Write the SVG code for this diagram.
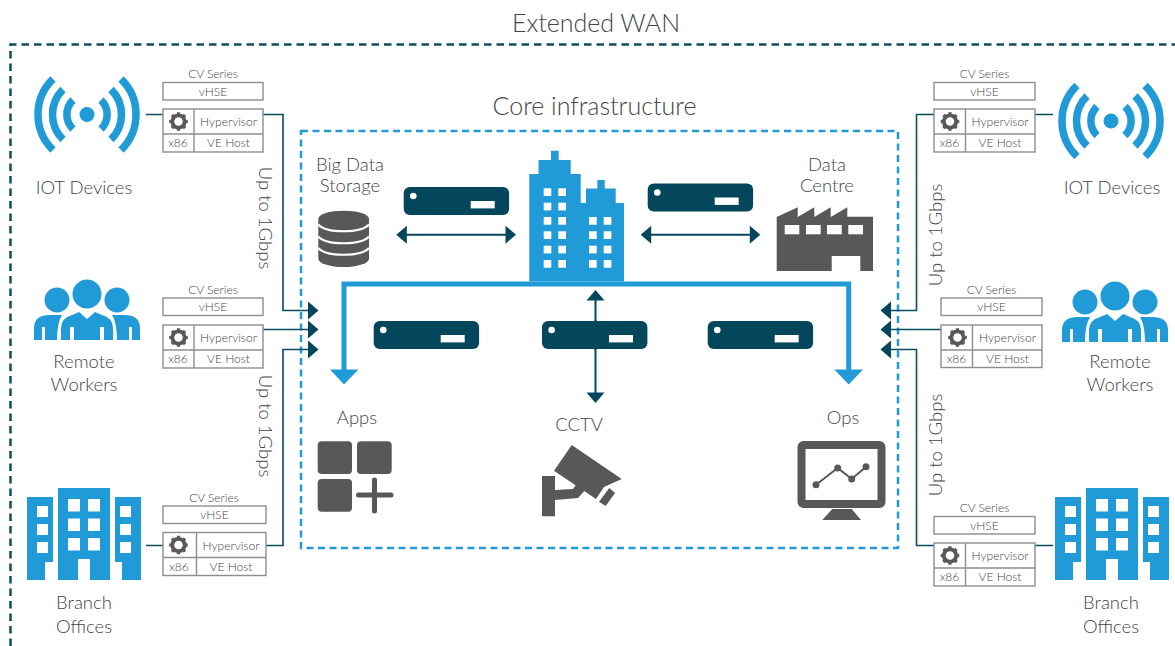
<svg xmlns="http://www.w3.org/2000/svg" width="1175" height="646" viewBox="0 0 1175 646">
<style>
text{font-family:"Lato","Open Sans","Liberation Sans",sans-serif;font-weight:300;fill:#454547;text-anchor:middle}
.t24{font-size:25px}.t18{font-size:18.500px}.t11{font-size:12px}
.box{fill:#fff;stroke:#8e8e8e;stroke-width:1.4}
.dv{stroke:#8e8e8e;stroke-width:1.4;fill:none}
.blue{fill:#219bd8}.dark{fill:#04465c}.grey{fill:#58585a}.wh{fill:#fff}
.link{fill:none;stroke:#0b4d61;stroke-width:1.6}
.dbl{fill:none;stroke:#04465c;stroke-width:2}
.bus{fill:none;stroke:#219bd8;stroke-width:5}
.arc{fill:none;stroke:#219bd8;stroke-width:7.5}
</style>
<defs>
<g id="gear">
<circle r="6.2" fill="none" stroke="#58585a" stroke-width="3.8"/>
<circle r="8" fill="none" stroke="#58585a" stroke-width="2.6" pathLength="16" stroke-dasharray="1 1" stroke-dashoffset="0.5"/>
</g>
<g id="server">
<rect width="105.4" height="28" rx="6" class="dark"/>
<circle cx="9.6" cy="9" r="3.3" class="wh"/>
<rect x="67" y="14" width="24" height="7.4" class="wh"/>
</g>
<g id="wifi">
<circle r="7.5" class="blue"/>
<path class="arc" d="M-14 -14.5A20.2 20.2 0 0 0 -14 14.5M14 -14.5A20.2 20.2 0 0 1 14 14.5M-24 -25A35 35 0 0 0 -24 25M24 -25A35 35 0 0 1 24 25M-34 -35.5A49.5 49.5 0 0 0 -34 35.5M34 -35.5A49.5 49.5 0 0 1 34 35.5"/>
</g>
<g id="people" class="blue">
<circle cx="87" cy="294" r="14.5"/><circle cx="57" cy="300" r="12.5"/><circle cx="117" cy="300" r="12.5"/>
<path d="M61 340V328Q61 318 72 315L79 312L87 319L95 312L102 315Q113 318 113 328V340H104V327H100V340H74V327H70V340Z"/>
<path d="M34 340V328Q34 315 50 315H62Q57 323 57 340H45V327H42V340Z"/>
<path d="M140 340V328Q140 315 124 315H112Q117 323 117 340H129V327H132V340Z"/>
</g>
<g id="branch">
<path class="blue" d="M58 488H110V580H90V559H78V580H58Z"/>
<path class="blue" d="M27 497H53V562H45V580H27Z"/>
<path class="blue" d="M115 497H141V580H122V562H115Z"/>
<g class="wh">
<rect x="68" y="499" width="12" height="12.5"/><rect x="88" y="499" width="12" height="12.5"/>
<rect x="68" y="518.5" width="12" height="12.5"/><rect x="88" y="518.5" width="12" height="12.5"/>
<rect x="68" y="538" width="12" height="12.5"/><rect x="88" y="538" width="12" height="12.5"/>
<rect x="37" y="506" width="11" height="11"/><rect x="37" y="524" width="11" height="11"/><rect x="37" y="542" width="11" height="11"/>
<rect x="120" y="506" width="11" height="11"/><rect x="120" y="524" width="11" height="11"/><rect x="120" y="542" width="11" height="11"/>
</g>
</g>
<path id="ah" d="M0 0L-10.500 -9V9Z" fill="#04465c"/>
</defs>

<path d="M10.500 646V44.500H1175" fill="none" stroke="#0e4f5f" stroke-width="2.500" stroke-dasharray="7.500 5"/>
<text class="t24" x="596" y="32">Extended WAN</text>
<rect x="301" y="131" width="597" height="417" fill="none" stroke="#219bd8" stroke-width="2.500" stroke-dasharray="7 4.500"/>
<text class="t24" x="594.500" y="115">Core infrastructure</text>

<g id="connectors">
<path class="link" d="M146 114.500H163M263 114.500H283V310.500H310"/>
<path class="link" d="M263 329.500H310"/>
<path class="link" d="M146 545.500H163M266 545.500H283V349.500H310"/>
<path class="link" d="M1053 114.500H1035M934 114.500H916.500V310.500H889"/>
<path class="link" d="M941 329.500H889"/>
<path class="link" d="M1053 545.500H1035M934 545.500H916.500V349.500H889"/>
<use href="#ah" transform="translate(318.500 310.500)"/>
<use href="#ah" transform="translate(318.500 329.500)"/>
<use href="#ah" transform="translate(318.500 349.500)"/>
<use href="#ah" transform="translate(880.500 310.500) scale(-1 1)"/>
<use href="#ah" transform="translate(880.500 329.500) scale(-1 1)"/>
<use href="#ah" transform="translate(880.500 349.500) scale(-1 1)"/>
<path class="dbl" d="M404 234.700H508"/>
<use href="#ah" transform="translate(516 234.700)"/>
<use href="#ah" transform="translate(396.300 234.700) scale(-1 1)"/>
<path class="dbl" d="M648 234.700H752"/>
<use href="#ah" transform="translate(760.300 234.700)"/>
<use href="#ah" transform="translate(640.700 234.700) scale(-1 1)"/>
<path class="dbl" d="M595.500 298V396"/>
<use href="#ah" transform="translate(595.500 290) rotate(-90)"/>
<use href="#ah" transform="translate(595.500 403) rotate(90)"/>
<path class="bus" d="M344 374V284H848.700V374"/>
<path class="blue" d="M330 369.500H358.500L344 384.500Z"/>
<path class="blue" d="M834.300 369.500H863L848.700 384.500Z"/>
</g>

<text class="t18" transform="translate(258.500 218) rotate(90)">Up to 1Gbps</text>
<text class="t18" transform="translate(258.500 426) rotate(90)">Up to 1Gbps</text>
<text class="t18" transform="translate(941.500 235) rotate(-90)">Up to 1Gbps</text>
<text class="t18" transform="translate(941.500 445) rotate(-90)">Up to 1Gbps</text>

<g id="iot-left"><use href="#wifi" transform="translate(87 114.500)"/><text class="t18" x="84" y="194">IOT Devices</text></g>
<g id="iot-right"><use href="#wifi" transform="translate(1111 121)"/><text class="t18" x="1112" y="194">IOT Devices</text></g>
<g id="workers-left"><use href="#people"/><text class="t18" x="84" y="368">Remote</text><text class="t18" x="84" y="391">Workers</text></g>
<g id="workers-right"><use href="#people" transform="translate(1028 2)"/><text class="t18" x="1120" y="368">Remote</text><text class="t18" x="1120" y="391">Workers</text></g>
<g id="branch-left"><use href="#branch"/><text class="t18" x="84" y="609">Branch</text><text class="t18" x="84" y="633">Offices</text></g>
<g id="branch-right"><use href="#branch" transform="translate(1028 0)"/><text class="t18" x="1111" y="609">Branch</text><text class="t18" x="1111" y="633">Offices</text></g>

<g id="cv-1">
<text class="t11" x="213" y="78">CV Series</text><rect class="box" x="163" y="82.500" width="100" height="17.500"/><text class="t11" x="213" y="95.500">vHSE</text>
<rect class="box" x="163" y="109" width="100" height="43"/><path class="dv" d="M194 109V152M163 134H263"/>
<use href="#gear" transform="translate(178.500 121.500)"/><text class="t11" x="228.500" y="126">Hypervisor</text><text class="t11" x="178" y="147">x86</text><text class="t11" x="228.500" y="147">VE Host</text>
</g>
<g id="cv-2">
<text class="t11" x="213" y="294">CV Series</text><rect class="box" x="163" y="298" width="100" height="17.500"/><text class="t11" x="213" y="311">vHSE</text>
<rect class="box" x="163" y="325" width="100" height="43"/><path class="dv" d="M194 325V368M163 350H263"/>
<use href="#gear" transform="translate(178.500 337.500)"/><text class="t11" x="228.500" y="342">Hypervisor</text><text class="t11" x="178" y="363">x86</text><text class="t11" x="228.500" y="363">VE Host</text>
</g>
<g id="cv-3">
<text class="t11" x="214" y="502">CV Series</text><rect class="box" x="163" y="506" width="103" height="17.500"/><text class="t11" x="214.500" y="519">vHSE</text>
<rect class="box" x="163" y="532.500" width="103" height="43"/><path class="dv" d="M196.500 532.500V575.500M163 557.500H266"/>
<use href="#gear" transform="translate(178.500 545)"/><text class="t11" x="231" y="550">Hypervisor</text><text class="t11" x="179" y="571">x86</text><text class="t11" x="231" y="571">VE Host</text>
</g>
<g id="cv-4">
<text class="t11" x="984.500" y="78">CV Series</text><rect class="box" x="934" y="82.500" width="101" height="17.500"/><text class="t11" x="984.500" y="95.500">vHSE</text>
<rect class="box" x="934" y="109" width="101" height="43"/><path class="dv" d="M965.500 109V152M934 134H1035"/>
<use href="#gear" transform="translate(950 121.500)"/><text class="t11" x="1000" y="126">Hypervisor</text><text class="t11" x="949.500" y="147">x86</text><text class="t11" x="1000" y="147">VE Host</text>
</g>
<g id="cv-5">
<text class="t11" x="991.500" y="294">CV Series</text><rect class="box" x="941" y="298" width="101" height="17.500"/><text class="t11" x="991.500" y="311">vHSE</text>
<rect class="box" x="941" y="325" width="101" height="42.500"/><path class="dv" d="M972.500 325V367.500M941 350H1042"/>
<use href="#gear" transform="translate(957.500 337.500)"/><text class="t11" x="1007.500" y="342">Hypervisor</text><text class="t11" x="956.500" y="363">x86</text><text class="t11" x="1007.500" y="363">VE Host</text>
</g>
<g id="cv-6">
<text class="t11" x="984.500" y="512">CV Series</text><rect class="box" x="934" y="516.500" width="101" height="17.500"/><text class="t11" x="984.500" y="529.500">vHSE</text>
<rect class="box" x="934" y="543" width="101" height="43"/><path class="dv" d="M965.500 543V586M934 568H1035"/>
<use href="#gear" transform="translate(950 555.500)"/><text class="t11" x="1000" y="560">Hypervisor</text><text class="t11" x="949.500" y="581">x86</text><text class="t11" x="1000" y="581">VE Host</text>
</g>

<g id="tower">
<path class="blue" d="M529.300 281.500V174H538.500V160H551V150.700H558.700V160H570.700V174H580.700V203H586V188.500H597.300V180H604.700V188.500H615.700V203H624V281.500Z"/>
<g class="wh">
<rect x="543.700" y="188.300" width="7.600" height="7.700"/><rect x="558.300" y="188.300" width="7.700" height="7.700"/>
<rect x="543.700" y="202.700" width="7.600" height="7.700"/><rect x="558.300" y="202.700" width="7.700" height="7.700"/>
<rect x="543.700" y="217" width="7.600" height="7.700"/><rect x="558.300" y="217" width="7.700" height="7.700"/>
<rect x="543.700" y="231.300" width="7.600" height="7.700"/><rect x="558.300" y="231.300" width="7.700" height="7.700"/>
<rect x="543.700" y="245.700" width="7.600" height="7.700"/><rect x="558.300" y="245.700" width="7.700" height="7.700"/>
<rect x="543.700" y="260" width="7.600" height="7.700"/><rect x="558.300" y="260" width="7.700" height="7.700"/>
<rect x="589" y="217" width="7.700" height="7.700"/><rect x="603.700" y="217" width="7.700" height="7.700"/>
<rect x="589" y="231.300" width="7.700" height="7.700"/><rect x="603.700" y="231.300" width="7.700" height="7.700"/>
<rect x="589" y="245.700" width="7.700" height="7.700"/><rect x="603.700" y="245.700" width="7.700" height="7.700"/>
<rect x="589" y="260" width="7.700" height="7.700"/><rect x="603.700" y="260" width="7.700" height="7.700"/>
</g>
</g>
<g id="server-1"><use href="#server" transform="translate(403.700 187)"/></g>
<g id="server-2"><use href="#server" transform="translate(647.700 183.500)"/></g>
<g id="server-3"><use href="#server" transform="translate(373.700 321)"/></g>
<g id="server-4"><use href="#server" transform="translate(542 321)"/></g>
<g id="server-5"><use href="#server" transform="translate(707.700 321)"/></g>
<path class="dbl" d="M595.500 320V350"/>

<g id="storage">
<text class="t18" x="350" y="171">Big Data</text><text class="t18" x="350" y="192">Storage</text>
<path class="grey" d="M318.300 219A25.300 8.300 0 0 1 369 219V258.700A25.300 8.300 0 0 1 318.300 258.700Z"/>
<path d="M318.300 224.500C326 233.500 361 233.500 369 224.500M318.300 236.500C326 245.500 361 245.500 369 236.500M318.300 248C326 257 361 257 369 248" fill="none" stroke="#fff" stroke-width="2.200"/>
</g>
<g id="datacentre">
<text class="t18" x="827" y="171">Data</text><text class="t18" x="827" y="192">Centre</text>
<path class="grey" d="M776.700 271V217L797.700 207.300V217L814.300 207.300V217L830.700 207.300V217L847.300 207.300V216.700H873V271H860.300V256H831.700V271Z"/>
<g class="wh"><rect x="784.700" y="225" width="14.600" height="9.300"/><rect x="806" y="225" width="14.700" height="9.300"/><rect x="827" y="225" width="14.700" height="9.300"/><rect x="848.300" y="225" width="14.700" height="9.300"/></g>
</g>
<g id="apps">
<text class="t18" x="357" y="424">Apps</text>
<g class="grey"><rect x="317.700" y="441.300" width="34.300" height="32.700" rx="4"/><rect x="357" y="441.300" width="34.700" height="32.700" rx="4"/><rect x="317.700" y="479" width="34.300" height="32.700" rx="4"/></g>
<path d="M358.500 495H391M374.500 480V511" fill="none" stroke="#58585a" stroke-width="5" stroke-linecap="round"/>
</g>
<g id="cctv">
<text class="t18" x="579" y="431">CCTV</text>
<path class="grey" d="M571.700 445L621.700 479L604 487L596 499L554 470.700Z"/>
<path class="grey" d="M542 476H555V490L573 489L578 482L587 488L578 498L555 500V516.300H542Z"/>
<path class="grey" d="M609.300 488L615 493L605.700 506L599 501.700Z"/>
</g>
<g id="ops">
<text class="t18" x="843" y="424">Ops</text>
<rect x="801.500" y="445" width="80" height="59" rx="2" fill="none" stroke="#58585a" stroke-width="8"/>
<path class="grey" d="M822.300 520H861L851.700 509H832.300Z"/>
<path d="M816 484.700L837.700 468L851.700 479L866 466.700" fill="none" stroke="#58585a" stroke-width="2"/>
<g class="grey"><circle cx="816" cy="484.700" r="3.500"/><circle cx="837.700" cy="468" r="3.500"/><circle cx="851.700" cy="479" r="3.500"/><circle cx="866" cy="466.700" r="3.500"/></g>
</g>
</svg>
